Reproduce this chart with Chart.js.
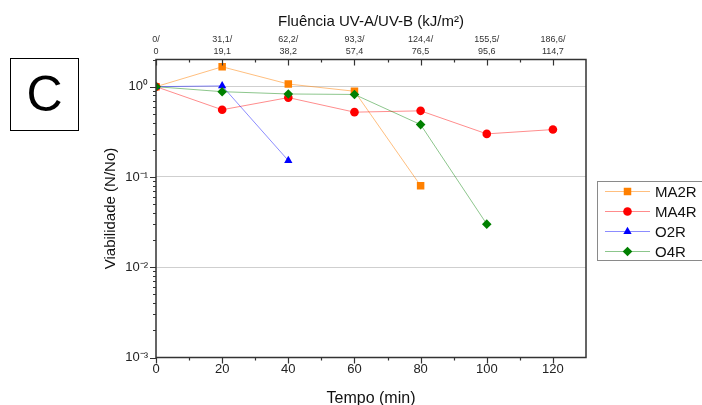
<!DOCTYPE html>
<html>
<head>
<meta charset="utf-8">
<script src="https://cdn.jsdelivr.net/npm/chart.js@4/dist/chart.umd.min.js"></script>
<style>
  html, body { margin: 0; padding: 0; background: #fff; }
  #wrap { position: relative; width: 702px; height: 405px; overflow: hidden; }
  #panel { position: absolute; left: 10px; top: 58px; width: 67px; height: 71px; border: 1px solid #000;
           font-family: "Liberation Sans", Arial, sans-serif; font-size: 50px; line-height: 71px; text-align: center; color: #000; box-sizing: content-box; }
</style>
</head>
<body>
<div id="wrap">
  <canvas id="c" width="702" height="405"></canvas>
  <div id="panel">C</div>
</div>
<script>
// ---- data ----
const times = [0, 20, 40, 60, 80, 100, 120];
const fluenceUVA = ['0/', '31,1/', '62,2/', '93,3/', '124,4/', '155,5/', '186,6/'];
const fluenceUVB = ['0', '19,1', '38,2', '57,4', '76,5', '95,6', '114,7'];
const yTickValues = [0.001, 0.01, 0.1, 1];
const yTickLabels = ['10\u207B\u00B3', '10\u207B\u00B2', '10\u207B\u00B9', '10\u2070'];
const seriesNames = ['MA2R', 'MA4R', 'O2R', 'O4R'];
const ma2r = [1.0, 1.66, 1.07, 0.89, 0.08];
const ma4r = [1.0, 0.555, 0.757, 0.522, 0.54, 0.30, 0.335];
const o2r  = [1.0, 1.02, 0.152];
const o4r  = [1.0, 0.88, 0.83, 0.82, 0.38, 0.030];

const FONT = '"Liberation Sans", Arial, sans-serif';
const pts = arr => arr.map((v, i) => ({x: times[i], y: v}));

const styles = [
  {marker: '#FF8000', line: 'rgba(255,128,0,0.5)', ps: 'rect', r: 5.3, order: 3},
  {marker: '#FF0000', line: 'rgba(255,0,0,0.45)', ps: 'circle', r: 4.3, order: 2},
  {marker: '#0000FF', line: 'rgba(0,0,255,0.45)', ps: 'triangle', r: 4.8, order: 1},
  {marker: '#008000', line: 'rgba(0,128,0,0.45)', ps: 'rectRot', r: 4.8, order: 0}
];
const allSeries = [ma2r, ma4r, o2r, o4r];

const datasets = allSeries.map((s, i) => ({
  label: seriesNames[i],
  data: pts(s),
  borderColor: styles[i].line,
  borderWidth: 1,
  backgroundColor: styles[i].marker,
  pointBackgroundColor: styles[i].marker,
  pointBorderColor: styles[i].marker,
  pointBorderWidth: 0,
  pointStyle: styles[i].ps,
  pointRadius: styles[i].r,
  pointHoverRadius: styles[i].r,
  order: styles[i].order,
  tension: 0
}));

const AXIS = '#333333';

const framePlugin = {
  id: 'frame',
  afterDraw(chart) {
    const ctx = chart.ctx;
    const a = chart.chartArea;
    const xs = chart.scales.x, ys = chart.scales.y;
    ctx.save();
    ctx.strokeStyle = AXIS;
    ctx.lineWidth = 1.5;
    ctx.strokeRect(a.left, a.top, a.right - a.left, a.bottom - a.top);
    ctx.lineWidth = 1.2;
    ctx.beginPath();
    // x ticks (bottom outward, top inward)
    for (let v = 0; v <= 130; v += 10) {
      const px = Math.round(xs.getPixelForValue(v)) + 0.5;
      const len = (v % 20 === 0) ? 6 : 3;
      if (v < 130) {
        ctx.moveTo(px, a.bottom); ctx.lineTo(px, a.bottom + len);
        ctx.moveTo(px, a.top); ctx.lineTo(px, a.top + len);
      }
    }
    // y log ticks (left outward)
    for (let e = -3; e <= 0; e++) {
      for (let m = 1; m <= 9; m++) {
        const v = m * Math.pow(10, e);
        if (v > ys.max + 1e-9) break;
        const py = Math.round(ys.getPixelForValue(v)) + 0.5;
        const len = m === 1 ? 6 : 3;
        ctx.moveTo(a.left, py); ctx.lineTo(a.left - len, py);
      }
    }
    ctx.stroke();

    // legend
    const lx = 597.5, ly = 181.5, lw = 110, lh = 79;
    ctx.strokeStyle = '#8a8a8a';
    ctx.lineWidth = 1;
    ctx.strokeRect(lx, ly, lw, lh);
    ctx.font = '15px ' + FONT;
    ctx.textBaseline = 'middle';
    ctx.textAlign = 'left';
    seriesNames.forEach((name, i) => {
      const y = 191.5 + i * 20;
      ctx.strokeStyle = styles[i].line;
      ctx.lineWidth = 1;
      ctx.beginPath(); ctx.moveTo(605, y); ctx.lineTo(650, y); ctx.stroke();
      ctx.fillStyle = styles[i].marker;
      ctx.strokeStyle = styles[i].marker;
      Chart.helpers.drawPoint(ctx, {pointStyle: styles[i].ps, radius: styles[i].r, borderWidth: 0, rotation: 0}, 627.5, y);
      ctx.fillStyle = '#111';
      ctx.fillText(name, 655, y + 1);
    });
    ctx.restore();
  }
};

new Chart(document.getElementById('c'), {
  type: 'line',
  data: { datasets },
  plugins: [framePlugin],
  options: {
    responsive: false,
    animation: false,
    devicePixelRatio: 1,
    layout: { padding: { left: 0, right: 116, top: 0, bottom: 0 } },
    plugins: { legend: { display: false }, tooltip: { enabled: false } },
    scales: {
      x: {
        type: 'linear', position: 'bottom', min: 0, max: 130,
        afterFit(s) { s.height = 47.5; },
        afterBuildTicks(s) { s.ticks = times.map(v => ({value: v})); },
        grid: { display: false, drawTicks: false },
        border: { display: false },
        ticks: { padding: 4, color: '#222', font: { family: FONT, size: 13 }, maxRotation: 0, autoSkip: false,
                 callback: v => String(v) },
        title: { display: true, text: 'Tempo (min)', color: '#111', font: { family: FONT, size: 16 }, padding: { top: 0, bottom: -3 } }
      },
      x2: {
        type: 'linear', position: 'top', min: 0, max: 130,
        afterFit(s) { s.height = 59.5; },
        afterBuildTicks(s) { s.ticks = times.map(v => ({value: v})); },
        grid: { display: false, drawTicks: false },
        border: { display: false },
        ticks: { padding: 2, color: '#333', font: { family: FONT, size: 9, lineHeight: 1.35 }, maxRotation: 0, autoSkip: false,
                 callback: (v, i) => [fluenceUVA[i], fluenceUVB[i]] },
        title: { display: true, text: 'Fluência UV-A/UV-B (kJ/m²)', color: '#111', font: { family: FONT, size: 15 }, padding: { top: 13, bottom: 0 } }
      },
      y: {
        type: 'logarithmic', position: 'left', min: 0.001, max: 2,
        afterFit(s) { s.width = 156; },
        afterBuildTicks(s) { s.ticks = yTickValues.map(v => ({value: v})); },
        grid: { drawTicks: false, color: ctx => (ctx.tick && ctx.tick.value >= 0.009) ? '#cfcfcf' : 'rgba(0,0,0,0)', lineWidth: 1 },
        border: { display: false },
        ticks: { padding: 8, color: '#222', font: { family: FONT, size: 13 }, autoSkip: false,
                 callback: (v, i) => yTickLabels[yTickValues.indexOf(v)] },
        title: { display: true, text: 'Viabilidade (N/No)', color: '#111', font: { family: FONT, size: 15 }, padding: { top: 102, bottom: 0 } }
      }
    }
  }
});
</script>
</body>
</html>
